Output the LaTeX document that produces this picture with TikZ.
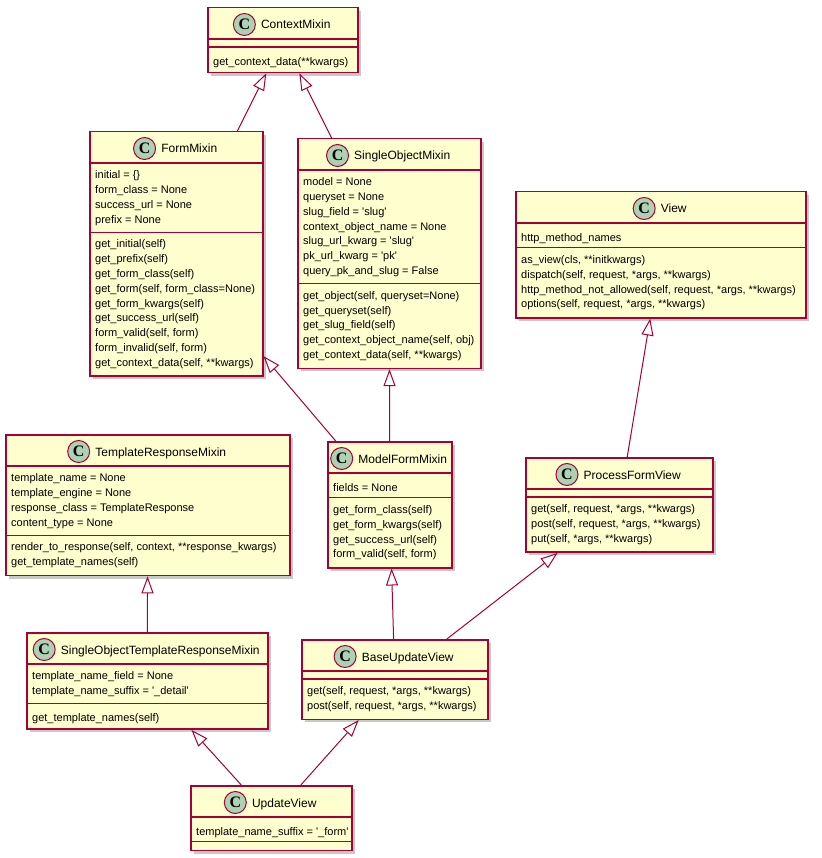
\documentclass[tikz,border=0pt]{standalone}
\usepackage{fontspec}
\setmainfont{Liberation Sans}
\newfontfamily\iconfont{Liberation Serif}
\usetikzlibrary{arrows.meta,shadows}
\definecolor{umlborder}{HTML}{A80036}
\definecolor{umlfill}{HTML}{FEFECE}
\definecolor{iconfill}{HTML}{ADD1B2}
\newcommand{\sq}{\textquotesingle}

\begin{document}
\begin{tikzpicture}[x=1pt, y=-1pt,
  cls/.style={anchor=north west, draw=umlborder, line width=1.5pt, fill=umlfill, inner sep=0pt,
    drop shadow={shadow xshift=3pt, shadow yshift=-3pt, opacity=.3, fill=black!70}},
  title/.style={anchor=base, inner sep=0pt, font=\fontsize{12}{14}\selectfont},
  icon/.style={anchor=east, circle, draw=umlborder, line width=1pt, fill=iconfill, minimum size=22pt,
    inner sep=0pt, font=\iconfont\bfseries\fontsize{16}{16}\selectfont},
  sep/.style={draw=umlborder, line width=1.1pt},
  members/.style={anchor=north west, inner sep=0pt, align=left, font=\fontsize{11}{14.8}\selectfont,
    execute at begin node=\strut, execute at end node=\strut},
  inh/.style={-{Triangle[open, length=17pt, width=12pt]}, draw=umlborder, line width=1pt}]
\useasboundingbox (0,0) rectangle (821,858);

% ContextMixin
\node (ctx) at (207,7) [cls, minimum width=150pt, minimum height=64.8pt] {};
\node (ctxT) at ([xshift=13pt, yshift=-22pt]ctx.north) [title] {ContextMixin};
\node (ctxC) at ([xshift=-5pt, yshift=4.5pt]ctxT.base west) [icon] {C};
\draw [sep] ([yshift=-32pt]ctx.north west) -- ([yshift=-32pt]ctx.north east);
\draw [sep] ([yshift=-40pt]ctx.north west) -- ([yshift=-40pt]ctx.north east);
\node (ctxM) at ([xshift=6pt, yshift=-47.5pt]ctx.north west) [members] {get\_context\_data(**kwargs)};

% FormMixin
\node (fm) at (89,131) [cls, minimum width=173pt, minimum height=244.4pt] {};
\node (fmT) at ([xshift=13pt, yshift=-22pt]fm.north) [title] {FormMixin};
\node (fmC) at ([xshift=-5pt, yshift=4.5pt]fmT.base west) [icon] {C};
\draw [sep] ([yshift=-32pt]fm.north west) -- ([yshift=-32pt]fm.north east);
\draw [sep] ([yshift=-101.2pt]fm.north west) -- ([yshift=-101.2pt]fm.north east);
\node (fmA) at ([xshift=6pt, yshift=-39.5pt]fm.north west) [members] {initial = \{\}\\form\_class = None\\success\_url = None\\prefix = None};
\node (fmM) at ([xshift=6pt, yshift=-108.7pt]fm.north west) [members] {get\_initial(self)\\get\_prefix(self)\\get\_form\_class(self)\\get\_form(self, form\_class=None)\\get\_form\_kwargs(self)\\get\_success\_url(self)\\form\_valid(self, form)\\form\_invalid(self, form)\\get\_context\_data(self, **kwargs)};

% SingleObjectMixin
\node (som) at (297,138) [cls, minimum width=183pt, minimum height=229.6pt] {};
\node (somT) at ([xshift=13pt, yshift=-22pt]som.north) [title] {SingleObjectMixin};
\node (somC) at ([xshift=-5pt, yshift=4.5pt]somT.base west) [icon] {C};
\draw [sep] ([yshift=-32pt]som.north west) -- ([yshift=-32pt]som.north east);
\draw [sep] ([yshift=-145.6pt]som.north west) -- ([yshift=-145.6pt]som.north east);
\node (somA) at ([xshift=6pt, yshift=-39.5pt]som.north west) [members] {model = None\\queryset = None\\slug\_field = \sq slug\sq\\context\_object\_name = None\\slug\_url\_kwarg = \sq slug\sq\\pk\_url\_kwarg = \sq pk\sq\\query\_pk\_and\_slug = False};
\node (somM) at ([xshift=6pt, yshift=-153.1pt]som.north west) [members] {get\_object(self, queryset=None)\\get\_queryset(self)\\get\_slug\_field(self)\\get\_context\_object\_name(self, obj)\\get\_context\_data(self, **kwargs)};

% View
\node (view) at (515,191) [cls, minimum width=290pt, minimum height=126pt] {};
\node (viewT) at ([xshift=13pt, yshift=-22pt]view.north) [title] {View};
\node (viewC) at ([xshift=-5pt, yshift=4.5pt]viewT.base west) [icon] {C};
\draw [sep] ([yshift=-32pt]view.north west) -- ([yshift=-32pt]view.north east);
\draw [sep] ([yshift=-56.8pt]view.north west) -- ([yshift=-56.8pt]view.north east);
\node (viewA) at ([xshift=6pt, yshift=-39.5pt]view.north west) [members] {http\_method\_names};
\node (viewM) at ([xshift=6pt, yshift=-64.3pt]view.north west) [members] {as\_view(cls, **initkwargs)\\dispatch(self, request, *args, **kwargs)\\http\_method\_not\_allowed(self, request, *args, **kwargs)\\options(self, request, *args, **kwargs)};

% TemplateResponseMixin
\node (trm) at (5,434) [cls, minimum width=284pt, minimum height=140.8pt] {};
\node (trmT) at ([xshift=13pt, yshift=-22pt]trm.north) [title] {TemplateResponseMixin};
\node (trmC) at ([xshift=-5pt, yshift=4.5pt]trmT.base west) [icon] {C};
\draw [sep] ([yshift=-32pt]trm.north west) -- ([yshift=-32pt]trm.north east);
\draw [sep] ([yshift=-101.2pt]trm.north west) -- ([yshift=-101.2pt]trm.north east);
\node (trmA) at ([xshift=6pt, yshift=-39.5pt]trm.north west) [members] {template\_name = None\\template\_engine = None\\response\_class = TemplateResponse\\content\_type = None};
\node (trmM) at ([xshift=6pt, yshift=-108.7pt]trm.north west) [members] {render\_to\_response(self, context, **response\_kwargs)\\get\_template\_names(self)};

% ModelFormMixin
\node (mfm) at (327,441) [cls, minimum width=124pt, minimum height=126pt] {};
\node (mfmT) at ([xshift=13pt, yshift=-22pt]mfm.north) [title] {ModelFormMixin};
\node (mfmC) at ([xshift=-5pt, yshift=4.5pt]mfmT.base west) [icon] {C};
\draw [sep] ([yshift=-32pt]mfm.north west) -- ([yshift=-32pt]mfm.north east);
\draw [sep] ([yshift=-56.8pt]mfm.north west) -- ([yshift=-56.8pt]mfm.north east);
\node (mfmA) at ([xshift=6pt, yshift=-39.5pt]mfm.north west) [members] {fields = None};
\node (mfmM) at ([xshift=6pt, yshift=-64.3pt]mfm.north west) [members] {get\_form\_class(self)\\get\_form\_kwargs(self)\\get\_success\_url(self)\\form\_valid(self, form)};

% ProcessFormView
\node (pfv) at (525,457) [cls, minimum width=187pt, minimum height=94.4pt] {};
\node (pfvT) at ([xshift=13pt, yshift=-22pt]pfv.north) [title] {ProcessFormView};
\node (pfvC) at ([xshift=-5pt, yshift=4.5pt]pfvT.base west) [icon] {C};
\draw [sep] ([yshift=-32pt]pfv.north west) -- ([yshift=-32pt]pfv.north east);
\draw [sep] ([yshift=-40pt]pfv.north west) -- ([yshift=-40pt]pfv.north east);
\node (pfvM) at ([xshift=6pt, yshift=-47.5pt]pfv.north west) [members] {get(self, request, *args, **kwargs)\\post(self, request, *args, **kwargs)\\put(self, *args, **kwargs)};

% SingleObjectTemplateResponseMixin
\node (sotrm) at (26,632) [cls, minimum width=241pt, minimum height=96.4pt] {};
\node (sotrmT) at ([xshift=13pt, yshift=-22pt]sotrm.north) [title] {SingleObjectTemplateResponseMixin};
\node (sotrmC) at ([xshift=-5pt, yshift=4.5pt]sotrmT.base west) [icon] {C};
\draw [sep] ([yshift=-32pt]sotrm.north west) -- ([yshift=-32pt]sotrm.north east);
\draw [sep] ([yshift=-71.6pt]sotrm.north west) -- ([yshift=-71.6pt]sotrm.north east);
\node (sotrmA) at ([xshift=6pt, yshift=-39.5pt]sotrm.north west) [members] {template\_name\_field = None\\template\_name\_suffix = \sq\_detail\sq};
\node (sotrmM) at ([xshift=6pt, yshift=-79.1pt]sotrm.north west) [members] {get\_template\_names(self)};

% BaseUpdateView
\node (buv) at (301,639) [cls, minimum width=186pt, minimum height=79.6pt] {};
\node (buvT) at ([xshift=13pt, yshift=-22pt]buv.north) [title] {BaseUpdateView};
\node (buvC) at ([xshift=-5pt, yshift=4.5pt]buvT.base west) [icon] {C};
\draw [sep] ([yshift=-32pt]buv.north west) -- ([yshift=-32pt]buv.north east);
\draw [sep] ([yshift=-40pt]buv.north west) -- ([yshift=-40pt]buv.north east);
\node (buvM) at ([xshift=6pt, yshift=-47.5pt]buv.north west) [members] {get(self, request, *args, **kwargs)\\post(self, request, *args, **kwargs)};

% UpdateView
\node (uv) at (190,785) [cls, minimum width=161pt, minimum height=64.8pt] {};
\node (uvT) at ([xshift=13pt, yshift=-22pt]uv.north) [title] {UpdateView};
\node (uvC) at ([xshift=-5pt, yshift=4.5pt]uvT.base west) [icon] {C};
\draw [sep] ([yshift=-32pt]uv.north west) -- ([yshift=-32pt]uv.north east);
\draw [sep] ([yshift=-56.8pt]uv.north west) -- ([yshift=-56.8pt]uv.north east);
\node (uvA) at ([xshift=6pt, yshift=-39.5pt]uv.north west) [members] {template\_name\_suffix = \sq\_form\sq};

% inheritance
\draw [inh] (fm) -- (ctx);
\draw [inh] (som) -- (ctx);
\draw [inh] (mfm) -- (fm);
\draw [inh] (mfm) -- (som);
\draw [inh] (pfv) -- (view);
\draw [inh] (sotrm) -- (trm);
\draw [inh] (buv) -- (mfm);
\draw [inh] (buv) -- (pfv);
\draw [inh] (uv) -- (sotrm);
\draw [inh] (uv) -- (buv);

\end{tikzpicture}
\end{document}
